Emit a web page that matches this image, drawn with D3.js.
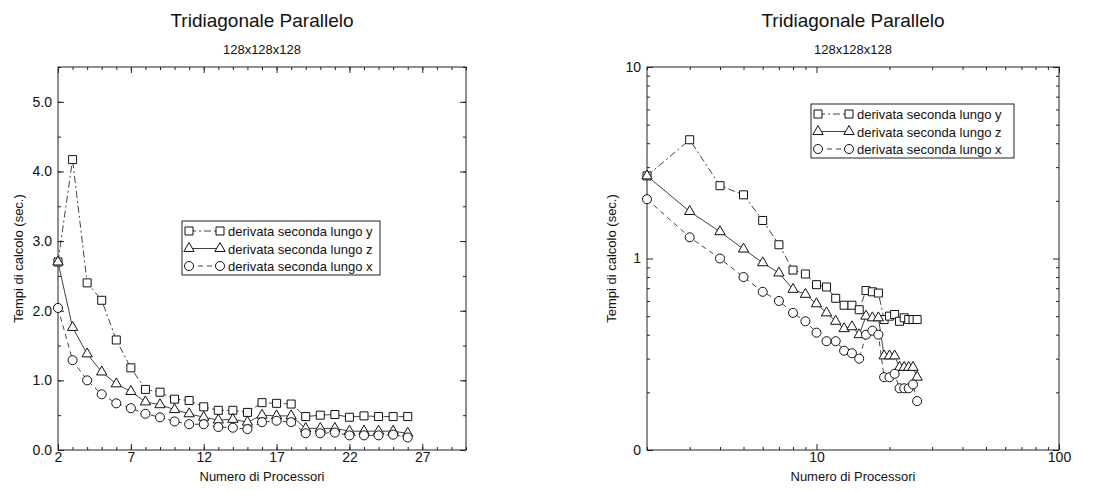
<!DOCTYPE html>
<html>
<head>
<meta charset="utf-8">
<script src="https://cdn.jsdelivr.net/npm/d3@7"></script>
<style>
  body { margin: 0; background: #fff; }
  svg { display: block; }
  text { font-family: "Liberation Sans", Arial, sans-serif; fill: #111; }
</style>
</head>
<body>
<div id="chart"></div>
<script>
// Data
const procs  = [2, 3, 4, 5, 6, 7, 8, 9, 10, 11, 12, 13, 14, 15, 16, 17, 18, 19, 20, 21, 22, 23, 24, 25, 26];
const derivY = [2.70, 4.17, 2.40, 2.15, 1.58, 1.18, 0.87, 0.83, 0.73, 0.71, 0.62, 0.57, 0.57, 0.54, 0.68, 0.67, 0.66, 0.48, 0.50, 0.51, 0.47, 0.49, 0.48, 0.48, 0.48];
const derivZ = [2.70, 1.76, 1.38, 1.12, 0.95, 0.84, 0.69, 0.65, 0.58, 0.52, 0.47, 0.43, 0.44, 0.40, 0.50, 0.49, 0.49, 0.31, 0.31, 0.31, 0.27, 0.27, 0.27, 0.27, 0.24];
const derivX = [2.04, 1.29, 1.00, 0.80, 0.67, 0.60, 0.52, 0.47, 0.41, 0.37, 0.37, 0.33, 0.32, 0.30, 0.40, 0.42, 0.40, 0.24, 0.24, 0.25, 0.21, 0.21, 0.21, 0.22, 0.18];
const legendLabels = ["derivata seconda lungo y", "derivata seconda lungo z", "derivata seconda lungo x"];

const titleText = "Tridiagonale Parallelo";
const subtitleText = "128x128x128";
const xLabel = "Numero di Processori";
const yLabel = "Tempi di calcolo (sec.)";

const linXTicks = [2, 7, 12, 17, 22, 27];
const linYTicks = [0, 1, 2, 3, 4, 5];
const logXTicks = [10, 100];
const logYTicks = [0.1, 1, 10];
const logYLabels = ["0", "1", "10"];

const series = [
  { values: derivY, symbol: d3.symbolSquare, size: 64, dash: "7,3,2,3" },
  { values: derivZ, symbol: d3.symbolTriangle, size: 46, dash: null },
  { values: derivX, symbol: d3.symbolCircle, size: 64, dash: "5,4" }
];

const svg = d3.select("#chart").append("svg")
  .attr("width", 1115)
  .attr("height", 491);

function drawPanel(p) {
  const g = svg.append("g");
  const x = p.x, y = p.y;
  const [x0, x1] = x.range();
  const [y0, y1] = y.range();

  // frame
  g.append("rect")
    .attr("x", x0).attr("y", y1)
    .attr("width", x1 - x0).attr("height", y0 - y1)
    .attr("fill", "none").attr("stroke", "#222").attr("stroke-width", 1);

  // ticks on all four sides, pointing inward
  function ticks(axisFn, scale, values, size, fmt, transform) {
    const ax = axisFn(scale).tickValues(values).tickSize(-size).tickSizeOuter(0).tickPadding(p.pad);
    ax.tickFormat(fmt || (() => ""));
    const a = g.append("g").attr("transform", transform).call(ax);
    a.select(".domain").remove();
    a.selectAll("line").attr("stroke", "#222");
    a.selectAll("text").attr("font-size", "14px").attr("fill", "#111");
    return a;
  }
  ticks(d3.axisBottom, x, p.xMinor, 3, null, `translate(0,${y0})`);
  ticks(d3.axisTop, x, p.xMinor, 3, null, `translate(0,${y1})`);
  ticks(d3.axisLeft, y, p.yMinor, 3, null, `translate(${x0},0)`);
  ticks(d3.axisRight, y, p.yMinor, 3, null, `translate(${x1},0)`);
  ticks(d3.axisBottom, x, p.xTicks, 6, p.xFmt, `translate(0,${y0})`);
  ticks(d3.axisTop, x, p.xTicks, 6, null, `translate(0,${y1})`);
  ticks(d3.axisLeft, y, p.yTicks, 6, p.yFmt, `translate(${x0},0)`).selectAll("text").attr("dx", "-4");
  ticks(d3.axisRight, y, p.yTicks, 6, null, `translate(${x1},0)`);

  // lines
  const line = d3.line().x((d, i) => x(procs[i])).y(d => y(d));
  series.forEach(s => {
    g.append("path")
      .attr("d", line(s.values))
      .attr("fill", "none")
      .attr("stroke", "#111")
      .attr("stroke-width", 0.8)
      .attr("stroke-dasharray", s.dash);
  });
  // markers
  series.forEach(s => {
    g.append("g").selectAll("path").data(s.values).join("path")
      .attr("transform", (d, i) => `translate(${x(procs[i])},${y(d)})`)
      .attr("d", d3.symbol(s.symbol, s.size))
      .attr("fill", "#fff")
      .attr("stroke", "#111")
      .attr("stroke-width", 1);
  });

  // titles and axis labels
  const cx = (x0 + x1) / 2, cy = (y0 + y1) / 2;
  g.append("text").attr("x", cx).attr("y", 27).attr("text-anchor", "middle")
    .attr("font-size", "19px").text(titleText);
  g.append("text").attr("x", cx).attr("y", 54).attr("text-anchor", "middle")
    .attr("font-size", "13px").text(subtitleText);
  g.append("text").attr("x", cx).attr("y", 481).attr("text-anchor", "middle")
    .attr("font-size", "13px").text(xLabel);
  g.append("text")
    .attr("transform", `translate(${p.yLabelX},${cy}) rotate(-90)`)
    .attr("text-anchor", "middle")
    .attr("font-size", "13px").text(yLabel);

  // legend
  const lg = g.append("g").attr("transform", `translate(${p.legend[0]},${p.legend[1]})`);
  lg.append("rect").attr("width", p.legend[2]).attr("height", 54)
    .attr("fill", "#fff").attr("stroke", "#222").attr("stroke-width", 1);
  series.forEach((s, i) => {
    const ry = 10 + i * 17.5;
    lg.append("line").attr("x1", 7).attr("x2", 38).attr("y1", ry).attr("y2", ry)
      .attr("stroke", "#111").attr("stroke-width", 0.8).attr("stroke-dasharray", s.dash);
    [7, 38].forEach(mx => {
      lg.append("path").attr("transform", `translate(${mx},${ry})`)
        .attr("d", d3.symbol(s.symbol, s.size))
        .attr("fill", "#fff").attr("stroke", "#111").attr("stroke-width", 1);
    });
    lg.append("text").attr("x", 46).attr("y", ry + 5)
      .attr("font-size", "13px").text(legendLabels[i]);
  });
}

// left panel: linear axes
drawPanel({
  x: d3.scaleLinear().domain([2, 30]).range([58, 466]),
  y: d3.scaleLinear().domain([0, 5.5]).range([450, 67]),
  xTicks: linXTicks,
  yTicks: linYTicks,
  xMinor: d3.range(2, 31),
  yMinor: d3.range(0, 5.51, 0.5),
  xFmt: d3.format("d"),
  yFmt: d3.format(".1f"),
  pad: 2,
  yLabelX: 23,
  legend: [182, 221, 198]
});

// right panel: log-log axes
drawPanel({
  x: d3.scaleLog().domain([2, 100]).range([647, 1059]),
  y: d3.scaleLog().domain([0.1, 10]).range([450, 67]),
  xTicks: logXTicks,
  yTicks: logYTicks,
  xMinor: [2, 3, 4, 5, 6, 7, 8, 9, 20, 30, 40, 50, 60, 70, 80, 90],
  yMinor: [0.2, 0.3, 0.4, 0.5, 0.6, 0.7, 0.8, 0.9, 2, 3, 4, 5, 6, 7, 8, 9],
  xFmt: d => String(d),
  yFmt: (d, i) => logYLabels[i],
  pad: 2,
  yLabelX: 616,
  legend: [811, 104, 203]
});
</script>
</body>
</html>
